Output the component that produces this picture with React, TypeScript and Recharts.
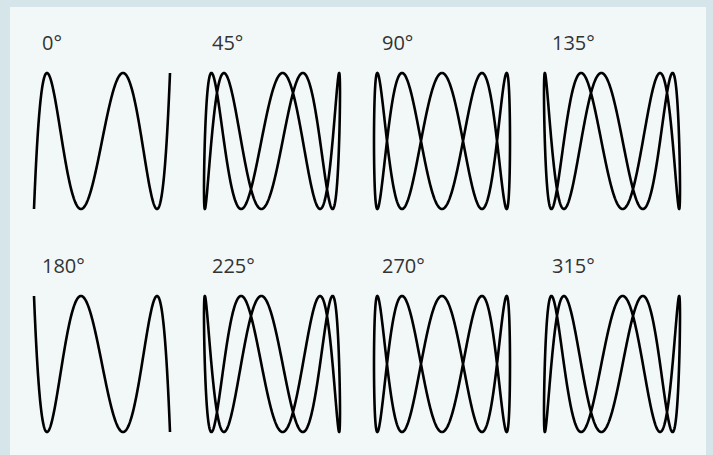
import React from "react";
import { LineChart, Line, XAxis, YAxis } from "recharts";

// Lissajous figures: x = sin(fx * t), y = sin(fy * t + phase)
const phaseDegrees = [0, 45, 90, 135, 180, 225, 270, 315];
const phaseLabels = ["0°", "45°", "90°", "135°", "180°", "225°", "270°", "315°"];
const frequencyX = 1;
const frequencyY = 5;
const sampleCount = 720;

type Pt = { x: number; y: number };

function buildCurve(phaseDeg: number): Pt[] {
  const phi = (phaseDeg * Math.PI) / 180;
  const pts: Pt[] = [];
  for (let i = 0; i <= sampleCount; i++) {
    const t = (i / sampleCount) * 2 * Math.PI;
    pts.push({ x: Math.sin(frequencyX * t), y: Math.sin(frequencyY * t + phi) });
  }
  return pts;
}

const PAD = 4;
const PLOT_W = 136;
const PLOT_H = 136;
const COL_LEFT = [34, 204, 374, 544];
const ROW_TOP = [73, 296];
const LABEL_TOP = [33, 256];

function Panel({ phase, label, col, row }: { phase: number; label: string; col: number; row: number }) {
  const data = buildCurve(phase);
  return (
    <>
      <div
        style={{
          position: "absolute",
          left: COL_LEFT[col] + 8,
          top: LABEL_TOP[row],
          fontFamily: "'Open Sans', sans-serif",
          fontSize: 20,
          lineHeight: "20px",
          color: "#333",
          whiteSpace: "nowrap",
        }}
      >
        {label}
      </div>
      <div style={{ position: "absolute", left: COL_LEFT[col] - PAD, top: ROW_TOP[row] - PAD }}>
        <LineChart
          width={PLOT_W + 2 * PAD}
          height={PLOT_H + 2 * PAD}
          data={data}
          margin={{ top: PAD, right: PAD, bottom: PAD, left: PAD }}
        >
          <XAxis dataKey="x" type="number" domain={[-1, 1]} hide />
          <YAxis dataKey="y" type="number" domain={[-1, 1]} hide />
          <Line
            dataKey="y"
            type="linear"
            stroke="#000"
            strokeWidth={2.6}
            dot={false}
            activeDot={false}
            isAnimationActive={false}
          />
        </LineChart>
      </div>
    </>
  );
}

export default function App() {
  return (
    <div
      style={{
        position: "fixed",
        left: 0,
        top: 0,
        width: 713,
        height: 455,
        background: "#d5e5ea",
        overflow: "hidden",
      }}
    >
      <div
        style={{
          position: "absolute",
          left: 10,
          top: 7,
          width: 696,
          height: 448,
          background: "#f2f8f8",
        }}
      />
      {phaseDegrees.map((p, i) => (
        <Panel key={p} phase={p} label={phaseLabels[i]} col={i % 4} row={Math.floor(i / 4)} />
      ))}
    </div>
  );
}
